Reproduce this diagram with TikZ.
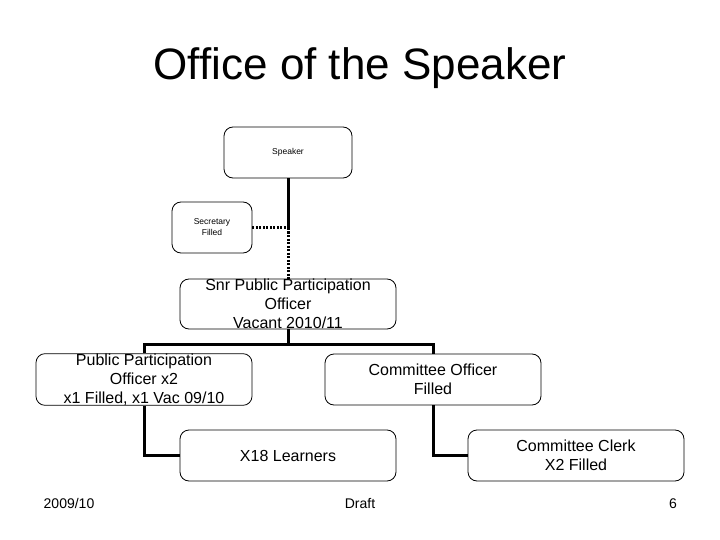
\documentclass[tikz,border=0pt]{standalone}
\usepackage{fontspec}
\setmainfont{Liberation Sans}
\begin{document}
\begin{tikzpicture}[x=1pt,y=-1pt,
  box/.style={draw=black,line width=0.8pt,rounded corners=9pt,inner sep=0pt,align=center,font=\fontsize{16}{19}\selectfont},
  smallbox/.style={draw=black,line width=0.8pt,rounded corners=9pt,inner sep=0pt,align=center,font=\fontsize{8.5}{11}\selectfont},
  foot/.style={font=\fontsize{14}{16}\selectfont,anchor=base,inner sep=0pt},
  conn/.style={line width=3pt,draw=black},
  dotconn/.style={line width=3pt,draw=black,dash pattern=on 2pt off 1.5pt}]
\useasboundingbox (0,0) rectangle (720,540);
\node[font=\fontsize{44}{50}\selectfont] (title) at (360,68) {Office of the Speaker};
\node[smallbox,minimum width=128pt,minimum height=51pt] (spk) at (288,152.5) {Speaker};
\node[smallbox,minimum width=80pt,minimum height=51pt] (sec) at (212,227.5) {Secretary\\Filled};
\node[box,minimum width=216pt,minimum height=50pt] (snr) at (288,304) {Snr Public Participation\\Officer\\Vacant 2010/11};
\node[box,minimum width=216pt,minimum height=51pt] (ppo) at (144,379.5) {Public Participation\\Officer x2\\x1 Filled, x1 Vac 09/10};
\node[box,minimum width=216pt,minimum height=51pt] (co) at (433,379.5) {Committee Officer\\Filled};
\node[box,minimum width=216pt,minimum height=51pt] (x18) at (288,455.5) {X18 Learners};
\node[box,minimum width=216pt,minimum height=51pt] (cc) at (576,455.5) {Committee Clerk\\X2 Filled};
\coordinate (j1) at (288,228);
\draw[conn] (spk.south) -- (j1);
\draw[dotconn] (j1) -- (snr.north);
\draw[dotconn] (sec.east |- j1) -- (j1);
\draw[conn] (snr.south) -- (288,344) -| (ppo.north);
\draw[conn] (288,344) -| (co.north);
\draw[conn] (ppo.south) |- (x18.west);
\draw[conn] (co.south) |- (cc.west);
\node[foot] (f1) at (69,508) {2009/10};
\node[foot] (f2) at (360,508) {Draft};
\node[foot] (f3) at (673,508) {6};
\end{tikzpicture}
\end{document}
